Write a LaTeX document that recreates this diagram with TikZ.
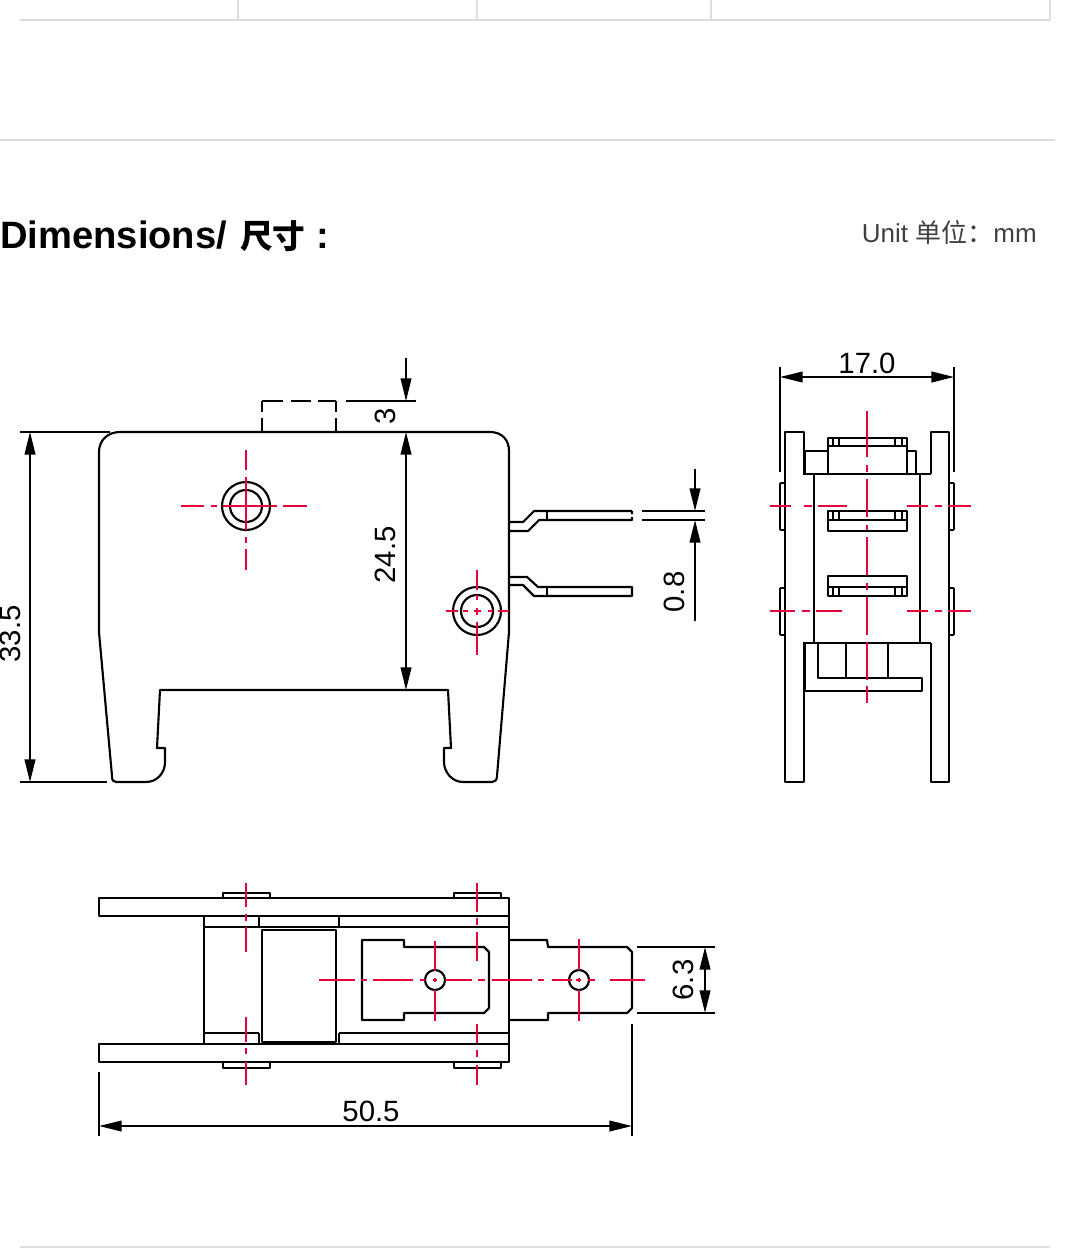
\documentclass[tikz,border=0pt]{standalone}
\usepackage{fontspec}
\setmainfont{Liberation Sans}
\newfontfamily\cjkfont{Noto Sans CJK SC}
\usetikzlibrary{arrows.meta}
\definecolor{cred}{HTML}{E6003C}
\definecolor{rule}{HTML}{DDDDDD}
\tikzset{
  part/.style={draw=black,line width=1.6pt,line join=round},
  redl/.style={draw=cred,line width=1.3pt},
  greyl/.style={draw=rule,line width=1.6pt},
  dimline/.style={draw=black,line width=1.4pt},
  dimarrow/.style={dimline,{Triangle[length=17pt,width=8pt]}-{Triangle[length=17pt,width=8pt]}},
  endarrow/.style={dimline,-{Triangle[length=17pt,width=8pt]}},
  dimtext/.style={font=\fontsize{22}{22}\selectfont,inner sep=0pt,anchor=base}
}
\newcommand{\redv}[2]{\foreach \a/\b in {#2} \draw[redl] (#1,\a) -- (#1,\b);}
\newcommand{\redh}[2]{\foreach \a/\b in {#2} \draw[redl] (\a,#1) -- (\b,#1);}
\begin{document}
\begin{tikzpicture}[x=0.75pt,y=-0.75pt]
\useasboundingbox (0,0) rectangle (1067,1248);
% page rules
\draw[greyl] (20,20) -- (1050,20);
\foreach \x in {238,477,711,1050} \draw[greyl] (\x,0) -- (\x,20);
\draw[greyl] (0,140) -- (1055,140);
\draw[greyl] (20,1247) -- (1050,1247);
% headings
\node[inner sep=0pt,anchor=base west,font=\bfseries\fontsize{28.6}{28.6}\selectfont] (title) at (0,248) {Dimensions/\hspace{2pt} {\cjkfont\bfseries\fontsize{24.5}{25}\selectfont 尺寸} :};
\node[inner sep=0pt,anchor=base east,font=\fontsize{19.5}{20}\selectfont,text=black!75] (unit) at (1037,243) {Unit {\cjkfont 单位：}mm};

% ---------- front view
\draw[part] (120,432) -- (490,432) .. controls (502,432) and (509,440) .. (509,451) -- (509,632) -- (497,776) .. controls (497,780) and (495,782) .. (492,782)
  -- (463,782) .. controls (452,782) and (444,772) .. (444,762) -- (444,748) -- (451,748) -- (448,690) -- (160,690) -- (157,748) -- (165,748) -- (165,762)
  .. controls (165,773) and (157,782) .. (146,782) -- (116,782) .. controls (113,782) and (112,780) .. (112,776) -- (99,632) -- (99,452) .. controls (99,440) and (108,432) .. (120,432) -- cycle;
\foreach \a/\b in {262/283,291/311,318/336} \draw[part] (\a,401) -- (\b,401);
\foreach \x in {262,336} \foreach \a/\b in {401/412,418/432} \draw[part] (\x,\a) -- (\x,\b);
\draw[part] (246,506) circle (24) (246,506) circle (16);
\draw[part] (477,611) circle (24) (477,611) circle (16);
% terminals
\draw[part] (509,522) -- (523,522) -- (534,511) -- (632,511) (632,511) -- (632,514) (632,517) -- (632,520) -- (539,520) -- (528,531) -- (509,531);
\draw[part] (547,511) -- (547,520);
\draw[part] (509,577) -- (527,577) -- (538,587) -- (632,587) -- (632,596) -- (534,596) -- (523,585) -- (509,585);
\draw[part] (547,587) -- (547,596);
% front dimensions
\draw[dimline] (346,401) -- (416,401);
\draw[dimline] (20,432) -- (110,432);
\draw[dimline] (20,782) -- (107,782);
\coordinate (t3) at (406,358); \coordinate (b3) at (406,401);
\draw[endarrow] (t3) -- (b3);
\coordinate (a24) at (406,432); \coordinate (b24) at (406,690);
\draw[dimarrow] (a24) -- (b24);
\coordinate (a33) at (30,432); \coordinate (b33) at (30,782);
\draw[dimarrow] (a33) -- (b33);
\node[dimtext,rotate=90] (d3) at (395,416) {3};
\node[dimtext,rotate=90] (d24) at (395,555) {24.5};
\node[dimtext,rotate=90] (d33) at (20,634) {33.5};
\draw[dimline] (642,511) -- (705,511);
\draw[dimline] (642,520) -- (705,520);
\coordinate (t08) at (695,469); \coordinate (m08a) at (695,511);
\coordinate (u08) at (695,621); \coordinate (m08b) at (695,520);
\draw[endarrow] (t08) -- (m08a);
\draw[endarrow] (u08) -- (m08b);
\node[dimtext,rotate=90] (d08) at (684,592) {0.8};
% front centre lines
\redh{506}{181/204,211/217,223/270,271/277,283/307}
\redv{246}{450/470,477/530,537/543,549/570}
\redh{611}{446/458,463/468,474/481,488/493,498/509}
\redv{477}{570/590,595/600,608/615,622/655}

% ---------- side view
\draw[part] (804,474) -- (804,432) -- (785,432) -- (785,782) -- (804,782) -- (804,643);
\draw[part] (931,474) -- (931,432) -- (949,432) -- (949,782) -- (931,782) -- (931,643);
\draw[part] (803,474) -- (931,474);
\draw[part] (803,643) -- (931,643);
\draw[part] (814,474) -- (814,643) (920,474) -- (920,643);
\draw[part] (780,483) -- (785,483) (780,530) -- (785,530) (780,483) -- (780,530);
\draw[part] (780,588) -- (785,588) (780,635) -- (785,635) (780,588) -- (780,635);
\draw[part] (954,483) -- (949,483) (954,530) -- (949,530) (954,483) -- (954,530);
\draw[part] (954,588) -- (949,588) (954,635) -- (949,635) (954,588) -- (954,635);
\draw[part] (805,474) -- (805,451) -- (828,451);
\draw[part] (907,451) -- (916,451) -- (916,474);
\draw[part] (828,474) -- (828,438) -- (907,438) -- (907,474);
\draw[part] (828,446) -- (907,446);
\draw[part] (828,511) rectangle (907,531);
\draw[part] (828,520) -- (907,520);
\draw[part] (828,576) rectangle (907,596);
\draw[part] (828,587) -- (907,587);
\foreach \x in {833,839,895,902} {
  \draw[line width=1pt] (\x,438) -- (\x,446);
  \draw[line width=1pt] (\x,511) -- (\x,520);
  \draw[line width=1pt] (\x,587) -- (\x,596);
}
\draw[part] (805,643) -- (805,691) -- (922,691) -- (922,678) -- (818,678) -- (818,643);
\draw[part] (846,643) -- (846,678) (888,643) -- (888,678);
% side dimension
\draw[dimline] (780,367) -- (780,472) (954,367) -- (954,472);
\coordinate (a17) at (780,377); \coordinate (b17) at (954,377);
\draw[dimarrow] (a17) -- (b17);
\node[dimtext] (d17) at (867,373) {17.0};
% side centre lines
\redv{867}{411/457,465/472,479/517,525/530,537/575,583/590,597/635,642/680,686/703}
\redh{506}{770/791,804/812,818/847,907/928,935/942,948/971}
\redh{611}{770/795,802/810,816/842,907/928,935/942,948/971}

% ---------- bottom view
\draw[part] (99,898) rectangle (509,916);
\draw[part] (99,1044) rectangle (509,1062);
\foreach \x in {223,454} {
  \draw[part] (\x,898) -- (\x,893) -- ({\x+47},893) -- ({\x+47},898);
  \draw[part] (\x,1062) -- (\x,1068) -- ({\x+47},1068) -- ({\x+47},1062);
}
\draw[part] (204,916) -- (204,1044);
\draw[part] (204,927) -- (509,927);
\draw[part] (204,1033) -- (259,1033) (339,1033) -- (509,1033);
\draw[part] (259,916) -- (259,927) (339,916) -- (339,927);
\draw[part] (259,1033) -- (259,1044) (339,1033) -- (339,1044);
\draw[part] (262,930) rectangle (336,1042);
\draw[part] (509,916) -- (509,1044);
\draw[part] (362,940) -- (404,940) -- (404,947) -- (484,947) -- (489,952) -- (489,1008) -- (484,1013) -- (404,1013) -- (404,1020) -- (362,1020) -- cycle;
\draw[part] (509,940) -- (547,940) -- (548,947) -- (627,947) -- (632,952) -- (632,1008) -- (627,1013) -- (548,1013) -- (548,1020) -- (509,1020);
\draw[part] (435,980) circle (10);
\draw[part] (579,980) circle (10);
% bottom dimensions
\draw[dimline] (637,947) -- (715,947) (637,1013) -- (715,1013);
\draw[dimline] (632,1024) -- (632,1136) (99,1072) -- (99,1136);
\coordinate (a63) at (705,947); \coordinate (b63) at (705,1013);
\draw[dimarrow] (a63) -- (b63);
\node[dimtext,rotate=90] (d63) at (693,980) {6.3};
\coordinate (a50) at (99,1126); \coordinate (b50) at (632,1126);
\draw[dimarrow] (a50) -- (b50);
\node[dimtext] (d50) at (371,1121) {50.5};
% bottom centre lines
\redh{980}{319/355,361/367,373/413,420/425,433/437,445/472,478/485,492/532,538/544,552/572,576/581,588/595,610/645}
\redv{246}{883/907,914/921,927/952,1017/1042,1048/1054,1062/1085}
\redv{477}{883/912,918/925,932/961,1024/1043,1050/1057,1065/1085}
\redv{435}{941/971,978/982,990/1021}
\redv{579}{939/970,978/982,990/1021}
\end{tikzpicture}
\end{document}
